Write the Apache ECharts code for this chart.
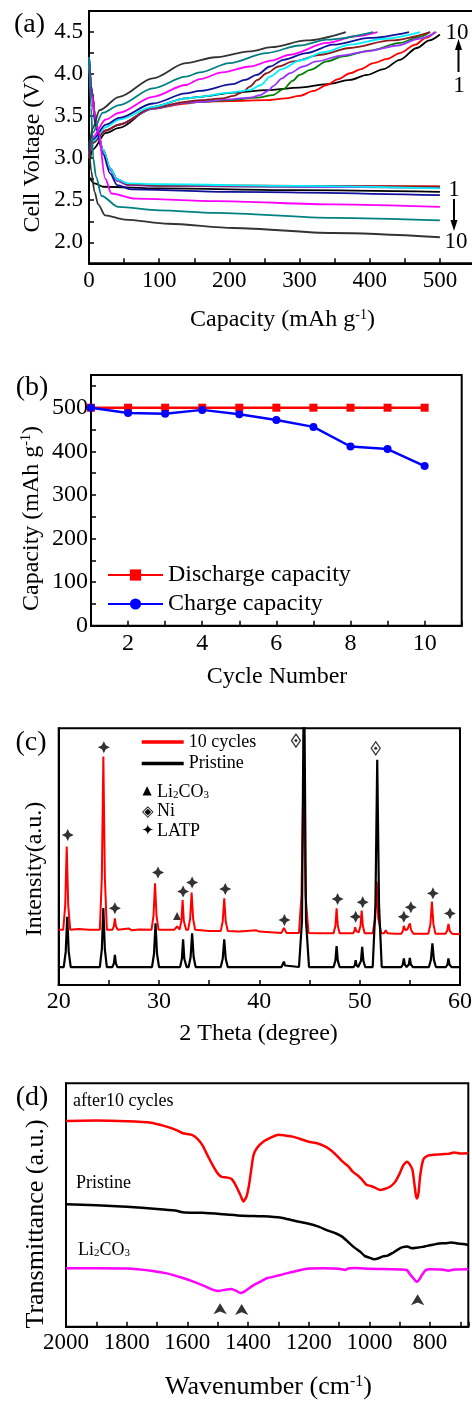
<!DOCTYPE html>
<html><head><meta charset="utf-8">
<script src="https://cdn.jsdelivr.net/npm/echarts@6/dist/echarts.min.js"></script>
<style>html,body{margin:0;padding:0;background:#fff}#c{width:472px;height:1401px}</style>
</head><body><div id="c"></div>
<script>
// ---------------- Panel (a): voltage profiles [capacity mAh/g, voltage V] ----------------
const cycleLabels = ['1','2','3','4','5','6','7','8','9','10'];
const charge1 = [[0,2.9],[5,3.1],[24,3.30],[43,3.36],[91,3.61],[138,3.71],[158,3.73],[206,3.78],[253,3.81],[300,3.84],[339,3.88],[372,3.93],[396,3.99],[420,4.06],[443,4.17],[467,4.31],[485,4.40],[500,4.47]];
const charge2 = [[0,3.0],[5,3.18],[24,3.33],[43,3.40],[91,3.59],[138,3.65],[158,3.67],[200,3.68],[253,3.69],[280,3.71],[300,3.74],[320,3.80],[339,3.87],[355,3.94],[372,4.01],[388,4.06],[405,4.13],[425,4.18],[443,4.25],[465,4.35],[480,4.43],[493,4.5]];
const charge3 = [[0,3.0],[5,3.18],[24,3.33],[43,3.40],[91,3.59],[138,3.66],[158,3.67],[200,3.69],[240,3.72],[262,3.75],[277,3.82],[290,3.92],[300,3.99],[315,4.05],[339,4.15],[362,4.21],[400,4.28],[443,4.37],[470,4.44],[486,4.5]];
const charge4 = [[0,3.0],[5,3.18],[24,3.33],[43,3.40],[91,3.59],[138,3.66],[158,3.67],[200,3.70],[230,3.72],[244,3.75],[255,3.80],[263,3.86],[275,3.95],[286,4.01],[305,4.09],[324,4.15],[360,4.22],[396,4.27],[440,4.34],[470,4.42],[495,4.5]];
const charge5 = [[0,3.0],[5,3.18],[24,3.33],[43,3.40],[91,3.60],[138,3.67],[158,3.69],[190,3.71],[206,3.74],[220,3.79],[229,3.85],[240,3.93],[253,4.01],[270,4.09],[291,4.15],[330,4.23],[372,4.31],[430,4.40],[486,4.5]];
const charge6 = [[0,3.05],[5,3.2],[24,3.37],[43,3.46],[91,3.61],[138,3.71],[158,3.73],[200,3.78],[229,3.81],[245,3.87],[258,3.97],[275,4.06],[300,4.16],[335,4.26],[372,4.35],[420,4.42],[472,4.5]];
const charge7 = [[0,3.05],[5,3.22],[24,3.40],[43,3.48],[91,3.65],[138,3.77],[158,3.80],[205,3.88],[222,3.93],[239,3.99],[258,4.09],[277,4.17],[310,4.25],[348,4.35],[400,4.43],[456,4.5]];
const charge8 = [[0,3.05],[5,3.25],[24,3.46],[43,3.54],[91,3.73],[138,3.87],[158,3.94],[190,4.02],[229,4.09],[260,4.16],[286,4.23],[339,4.37],[380,4.45],[411,4.5]];
const charge9 = [[0,3.1],[5,3.3],[19.5,3.54],[43,3.63],[91,3.83],[138,3.97],[158,4.02],[200,4.13],[253,4.25],[300,4.34],[339,4.41],[405,4.5]];
const charge10 = [[0,3.1],[5,3.35],[15,3.57],[43,3.73],[91,3.95],[138,4.13],[180,4.2],[229,4.27],[260,4.32],[310,4.40],[366,4.5]];
const discharge1 = [[0,2.78],[8,2.70],[20,2.66],[100,2.64],[300,2.62],[500,2.60]];
const discharge2 = [[0,4.2],[4,3.8],[10,3.4],[20,3.1],[30,2.88],[40,2.75],[55,2.69],[100,2.675],[300,2.67],[500,2.665]];
const discharge3 = [[0,4.2],[4,3.8],[10,3.4],[20,3.1],[30,2.87],[40,2.74],[55,2.69],[100,2.67],[300,2.66],[500,2.65]];
const discharge4 = [[0,4.2],[4,3.8],[10,3.4],[20,3.08],[30,2.86],[40,2.73],[55,2.68],[100,2.67],[300,2.66],[500,2.65]];
const discharge5 = [[0,4.2],[4,3.8],[10,3.42],[20,3.1],[30,2.88],[40,2.75],[55,2.69],[100,2.675],[300,2.67],[500,2.66]];
const discharge6 = [[0,4.2],[4,3.75],[10,3.38],[20,3.1],[30,2.88],[40,2.75],[55,2.70],[100,2.69],[300,2.67],[500,2.64]];
const discharge7 = [[0,4.2],[4,3.75],[10,3.35],[20,3.05],[30,2.82],[40,2.68],[60,2.63],[200,2.60],[500,2.56]];
const discharge8 = [[0,4.1],[4,3.75],[8,3.5],[13,3.34],[23,2.76],[32,2.58],[66,2.52],[180,2.49],[350,2.45],[500,2.42]];
const discharge9 = [[0,4.2],[3,3.6],[6,3.0],[10,2.78],[18,2.55],[42,2.42],[100,2.38],[180,2.35],[350,2.29],[500,2.26]];
const discharge10 = [[0,3.2],[3,2.85],[8,2.6],[13,2.45],[23,2.32],[51,2.27],[113,2.22],[206,2.17],[348,2.11],[500,2.06]];
const capacityTicks = [0,100,200,300,400,500];
const voltageTicks = [2.0,2.5,3.0,3.5,4.0,4.5];

// ---------------- Panel (b): capacity vs cycle ----------------
const cycleNumbers = [1,2,3,4,5,6,7,8,9,10];
const dischargeCapacity = [500,500,500,500,500,500,500,500,500,500];
const chargeCapacity = [500,488,486,495,485,472,456,411,405,366];

// ---------------- Panel (c): XRD [2theta, intensity a.u.] ----------------
const xrdCycled = [[20,21.5],[20.45,21.5],[20.65,31],[20.8,53.9],[20.95,31],[21.15,21.5],[22,21.8],[23,21.5],
 [24.1,21.5],[24.3,42],[24.45,89],[24.6,42],[24.8,21.5],[25.35,21.5],[25.5,22.9],[25.6,26],[25.7,22.9],[25.9,21.5],
 [27,22],[27.3,21.3],[28,21.6],[29.25,21.5],[29.45,27],[29.6,39.6],[29.75,27],[29.95,21.5],
 [31.5,21.5],[31.8,22.8],[32.05,21.6],[32.23,25],[32.35,33.1],[32.47,25],[32.7,21.5],
 [32.9,21.5],[33.1,25.8],[33.25,36],[33.4,25.8],[33.6,21.5],[35,21],
 [36.15,21],[36.35,24.8],[36.5,33.8],[36.65,24.8],[36.85,21],[38,20.8],[39.7,21.3],[40,20.8],
 [42.2,20.3],[42.45,22.2],[42.7,20.3],[43.95,20.3],[44.2,35],[44.4,83.1],[44.6,35],[44.9,20.3],[46,20.2],
 [47.4,20.2],[47.58,23.1],[47.7,29.9],[47.82,23.1],[48,20.2],[49.35,20.2],[49.47,21],[49.55,22.5],[49.65,21],
 [49.9,20.5],[50.08,23],[50.2,29],[50.32,23],[50.5,20.2],[51.3,20.2],[51.55,26],[51.7,40.3],[51.85,26],[52.15,20.2],
 [52.45,20.2],[52.6,21.3],[52.75,20.2],[53.5,20],[54.15,20],[54.3,21],[54.4,23],[54.55,21.4],[54.75,21.6],[54.9,22.2],
 [55.0,24],[55.12,21.5],[55.35,20],[56.85,20],[57.05,23.7],[57.2,32.5],[57.35,23.7],[57.55,20],
 [58.55,20],[58.72,21.1],[58.85,23.8],[58.98,21.1],[59.2,20],[60,19.8]];
const xrdPristine = [[20,7],[20.5,7],[20.7,12.9],[20.85,26.6],[21.0,12.9],[21.2,7],[24.1,7],[24.3,13.9],[24.45,30],[24.6,13.9],[24.8,7],
 [25.35,7],[25.5,8.4],[25.6,11.7],[25.7,8.4],[25.85,7],[29.3,7],[29.5,12.1],[29.65,24],[29.8,12.1],[30.0,7],
 [32.1,7],[32.28,10.2],[32.4,17.8],[32.52,10.2],[32.75,7],[32.95,7],[33.15,10.9],[33.3,20.1],[33.45,10.9],[33.65,7],
 [36.15,7],[36.35,10.2],[36.5,17.8],[36.65,10.2],[36.85,7],[42.2,7],[42.35,7.6],[42.45,9.1],[42.55,7.6],[42.7,7],
 [43.95,7],[44.25,25],[44.45,130],[44.65,25],[44.95,7],[47.4,7],[47.58,9.5],[47.7,15.2],[47.82,9.5],[48.0,7],
 [49.4,7],[49.52,7.8],[49.6,9.7],[49.68,7.8],[49.85,7],[49.95,7],[50.13,9.4],[50.25,14.9],[50.37,9.4],[50.55,7],
 [51.3,7],[51.57,31],[51.75,87.7],[51.93,31],[52.2,7],[54.15,7],[54.3,8],[54.4,10.4],[54.5,8],[54.68,7],
 [54.78,7],[54.9,8],[55.0,10.6],[55.1,8],[55.3,7],[56.9,7],[57.1,9.8],[57.25,16.2],[57.4,9.8],[57.6,7],
 [58.6,7],[58.75,8],[58.85,10.4],[58.95,8],[59.15,7],[60,7]];
const latpMarks = [[20.9,58.4],[24.5,92.6],[25.6,29.9],[29.9,43.8],[32.4,36.4],[33.3,39.9],[36.6,37.4],[42.5,25.3],[47.8,33.5],[49.6,26.6],[50.3,32.2],[54.4,26.6],[55.1,30.3],[57.3,35.7],[59.0,27.9]];
const li2co3Marks = [[31.8,26.9]];
const niMarks = [[43.65,95.2],[51.6,92.2]];

// ---------------- Panel (d): FTIR [wavenumber cm-1, transmittance a.u.] ----------------
const ftirCycled = [[2000,84.5],[1900,84.7],[1800,84.4],[1720,83.8],[1680,82.6],[1640,81],[1615,79.5],[1585,78.8],[1565,77],[1550,74.5],[1530,69.5],[1514,65.8],[1500,63],[1487,61.6],[1470,61.3],[1455,60.8],[1440,58],[1425,54],[1415,51.4],[1405,53.5],[1397,58],[1390,64],[1382,70.5],[1370,73.5],[1350,76],[1320,78],[1300,78.9],[1280,78.6],[1250,78],[1220,76.8],[1200,76],[1170,75.3],[1150,74.3],[1130,72.8],[1110,70.6],[1090,68],[1070,66],[1055,63.7],[1040,62.3],[1025,60.5],[1010,58.3],[995,57.8],[980,57],[965,56.2],[950,56.6],[932,57.5],[915,59.5],[900,63],[888,66.4],[876,67.8],[866,66.5],[858,64.4],[852,59],[847,54.1],[843,52.7],[838,55],[833,61.6],[826,67],[820,69.2],[805,70.4],[790,70.6],[760,70.9],[740,71],[720,71.6],[700,71.2],[674,71.3]];
const ftirPristine = [[2000,50.3],[1900,49.9],[1800,49.3],[1700,48.4],[1640,47.7],[1610,46.9],[1550,46.8],[1480,46.2],[1420,45.6],[1350,45.4],[1290,44.8],[1250,43.6],[1207,42.5],[1170,41.2],[1141,39.7],[1110,38.3],[1090,37],[1070,34.8],[1050,32.6],[1030,30.8],[1015,29],[1000,28.4],[985,27.7],[970,28.1],[955,28.9],[940,29.2],[925,30.2],[905,31.8],[890,32.7],[875,33],[860,32.2],[845,32.4],[825,32.8],[810,33.2],[790,33.7],[770,34.2],[750,34.3],[730,34.6],[710,34.2],[690,34],[674,33.6]];
const ftirLi2CO3 = [[2000,24],[1900,24],[1800,23.9],[1720,23],[1668,21.9],[1620,20.2],[1580,18.5],[1545,16.8],[1514,15.1],[1495,14.7],[1475,15.2],[1455,15.5],[1440,14.8],[1425,13.8],[1415,14.2],[1400,15.5],[1385,16.8],[1360,18.5],[1338,19.9],[1300,21],[1273,21.9],[1230,23.2],[1200,23.9],[1150,24],[1100,23.8],[1080,23.3],[1070,23.9],[1050,24.1],[1000,23.8],[950,23.7],[900,23.5],[877,23.3],[866,21.5],[855,19.9],[848,18.8],[842,18.5],[835,19.5],[827,21.2],[815,23.2],[800,23.6],[760,23.5],[740,23],[720,23.5],[674,23.6]];
const ftirArrows = [[1492,9.6],[1421,9.3],[841,13.3]];

// ---------------- styling / building ----------------
const FONT = '"Liberation Serif", "Times New Roman", serif';
const SYMF = '"DejaVu Sans", sans-serif';
const cycleColors = ['#000000','#ff0000','#008000','#9933ff','#8b1a1a','#00f0ff','#10109a','#ff00ff','#008080','#333333'];
const chargeCurves = [charge1,charge2,charge3,charge4,charge5,charge6,charge7,charge8,charge9,charge10];
const dischargeCurves = [discharge1,discharge2,discharge3,discharge4,discharge5,discharge6,discharge7,discharge8,discharge9,discharge10];

function axisBase(extra){
  return Object.assign({
    type:'value',
    axisLine:{show:true,onZero:false,lineStyle:{color:'#000',width:2}},
    axisTick:{show:true,inside:true,length:5,lineStyle:{color:'#000',width:1.5}},
    splitLine:{show:false},
    axisLabel:{color:'#000',fontFamily:FONT,fontSize:23,margin:6}
  }, extra);
}
function near(a,b){return Math.abs(a-b)<1e-6;}

const series = [];
cycleLabels.forEach((lab,i)=>{
  [dischargeCurves[i], chargeCurves[i]].forEach((d,k)=>{
    series.push({type:'line', name:(k?'charge ':'discharge ')+lab, xAxisIndex:0, yAxisIndex:0, data:d,
      symbol:'none', smooth:0.3, smoothMonotone:'x', silent:true,
      lineStyle:{color:cycleColors[i], width:1.8}, itemStyle:{color:cycleColors[i]}});
  });
});
series.push({type:'line', name:'Discharge capacity', xAxisIndex:1, yAxisIndex:1,
  data:cycleNumbers.map((c,i)=>[c,dischargeCapacity[i]]), symbol:'rect', symbolSize:8,
  lineStyle:{color:'#ff0000',width:2.5}, itemStyle:{color:'#ff0000'}});
series.push({type:'line', name:'Charge capacity', xAxisIndex:1, yAxisIndex:1,
  data:cycleNumbers.map((c,i)=>[c,chargeCapacity[i]]), symbol:'circle', symbolSize:8,
  lineStyle:{color:'#0000ff',width:2.5}, itemStyle:{color:'#0000ff'}});
series.push({type:'line', name:'10 cycles', xAxisIndex:2, yAxisIndex:2, data:xrdCycled, symbol:'none',
  lineStyle:{color:'#ff0000',width:2}, itemStyle:{color:'#ff0000'}});
series.push({type:'line', name:'Pristine', xAxisIndex:2, yAxisIndex:2, data:xrdPristine, symbol:'none',
  lineStyle:{color:'#000000',width:2.2}, itemStyle:{color:'#000000'}});
series.push({type:'scatter', name:'LATP', xAxisIndex:2, yAxisIndex:2, data:latpMarks, silent:true,
  symbol:'path://M0,-10 L3.3,-3.3 L10,0 L3.3,3.3 L0,10 L-3.3,3.3 L-10,0 L-3.3,-3.3 Z', symbolSize:12,
  itemStyle:{color:'#000'}});
series.push({type:'scatter', name:'Li2CO3 mark', xAxisIndex:2, yAxisIndex:2, data:li2co3Marks, silent:true,
  symbol:'triangle', symbolSize:[8,8], itemStyle:{color:'#000'}});
series.push({type:'scatter', name:'Ni', xAxisIndex:2, yAxisIndex:2, data:niMarks, silent:true,
  symbol:'path://M0,-10 L7,0 L0,10 L-7,0 Z', symbolSize:[9,13], itemStyle:{color:'#fff',borderColor:'#000',borderWidth:1.3}});
series.push({type:'scatter', name:'Ni dot', xAxisIndex:2, yAxisIndex:2, data:niMarks, silent:true,
  symbol:'circle', symbolSize:3, itemStyle:{color:'#000'}});
const neg = arr => arr.map(p=>[-p[0],p[1]]);
series.push({type:'line', name:'after10 cycles', xAxisIndex:3, yAxisIndex:3, data:neg(ftirCycled), symbol:'none', smooth:0.2,
  lineStyle:{color:'#ff0000',width:2.5}});
series.push({type:'line', name:'Pristine FTIR', xAxisIndex:3, yAxisIndex:3, data:neg(ftirPristine), symbol:'none', smooth:0.2,
  lineStyle:{color:'#000000',width:2.5}});
series.push({type:'line', name:'Li2CO3 FTIR', xAxisIndex:3, yAxisIndex:3, data:neg(ftirLi2CO3), symbol:'none', smooth:0.2,
  lineStyle:{color:'#ff00ff',width:2.5}});
series.push({type:'scatter', name:'FTIR arrows', xAxisIndex:3, yAxisIndex:3, data:neg(ftirArrows), silent:true,
  symbol:'arrow', symbolSize:[10,11], itemStyle:{color:'#000'}});

function T(x,y,text,size,opt){
  opt = opt||{};
  const st = Object.assign({text:text, fontFamily:opt.family||FONT, fontSize:size, fill:'#000',
     align:opt.align||'center', verticalAlign:'middle', textAlign:opt.align||'center', textVerticalAlign:'middle'}, opt.style||{});
  if (opt.rich) st.rich = opt.rich;
  return {type:'text', x:x, y:y, rotation:opt.rot||0, silent:true, style:st};
}
function supRich(size){
  return {n:{fontSize:size,fontFamily:FONT,fill:'#000'}, s:{fontSize:Math.round(size*0.6),fontFamily:FONT,fill:'#000',verticalAlign:'top'}};
}
function subRich(size){
  return {n:{fontSize:size,fontFamily:FONT,fill:'#000'}, b:{fontSize:Math.round(size*0.62),fontFamily:FONT,fill:'#000',verticalAlign:'bottom'}};
}
const R90 = Math.PI/2;
const graphics = [
  T(29.5,25,'(a)',28), T(32,388,'(b)',28), T(31,743,'(c)',28), T(32,1098,'(d)',28),
  // panel (a) titles and annotations
  T(282.5,320,'{n|Capacity (mAh g}{s|-1}{n|)}',24,{rich:supRich(24)}),
  T(33,153.5,'Cell Voltage (V)',24,{rot:R90}),
  T(457,33,'10',23), T(459,86,'1',23), T(454,190,'1',23), T(456,242,'10',23),
  {type:'line', silent:true, shape:{x1:458.5,y1:72,x2:458.5,y2:47}, style:{stroke:'#000',lineWidth:2}},
  {type:'polygon', silent:true, shape:{points:[[458.5,39],[455,50],[462,50]]}, style:{fill:'#000'}},
  {type:'line', silent:true, shape:{x1:454,y1:199,x2:454,y2:223}, style:{stroke:'#000',lineWidth:2}},
  {type:'polygon', silent:true, shape:{points:[[454,231],[450.5,220],[457.5,220]]}, style:{fill:'#000'}},
  // panel (b)
  T(277,677,'Cycle Number',24),
  T(31.7,518.5,'{n|Capacity (mAh g}{s|-1}{n|)}',24,{rot:R90,rich:supRich(24)}),
  // panel (c)
  T(258.5,1034,'2 Theta (degree)',24),
  T(35,869,'Intensity(a.u.)',24,{rot:R90}),
  T(147,791,'\u25B2',12,{family:SYMF}),
  T(157,792,'{n|Li}{b|2}{n|CO}{b|3}',18,{align:'left',rich:subRich(18)}),
  T(147.7,811.7,'\u25C8',15,{family:SYMF}),
  T(157,811.7,'Ni',18,{align:'left'}),
  T(147.7,831,'\u2726',15,{family:SYMF}),
  T(157,831,'LATP',18,{align:'left'}),
  // panel (d)
  T(268.5,1387,'{n|Wavenumber (cm}{s|-1}{n|)}',26,{rich:supRich(26)}),
  T(36,1224,'Transmittance (a.u.)',26,{rot:R90}),
  T(73,1101,'after10 cycles',18,{align:'left'}),
  T(76,1183,'Pristine',18,{align:'left'}),
  T(78,1250,'{n|Li}{b|2}{n|CO}{b|3}',18,{align:'left',rich:subRich(18)})
];

const gridBase = {show:true, borderColor:'#000', borderWidth:2, backgroundColor:'transparent', containLabel:false, outerBoundsMode:'none'};
const option = {
  backgroundColor:'#ffffff',
  animation:false,
  grid:[
    Object.assign({left:89, top:11, width:393, height:252.3}, gridBase),
    Object.assign({left:91, top:375, width:370.7, height:250.7}, gridBase),
    Object.assign({left:58.7, top:728.3, width:401.3, height:256.7}, gridBase),
    Object.assign({left:66, top:1083.3, width:402.3, height:243.4}, gridBase)
  ],
  xAxis:[
    axisBase({gridIndex:0, min:0, max:560, interval:50,
      axisLabel:{color:'#000',fontFamily:FONT,fontSize:23,margin:6, showMaxLabel:false,
        formatter:v=>(capacityTicks.indexOf(v)>=0)?String(v):''}}),
    axisBase({gridIndex:1, min:1, max:11, interval:1,
      axisLabel:{color:'#000',fontFamily:FONT,fontSize:24,margin:6,
        formatter:v=>(v%2===0 && v<=10)?String(v):''}}),
    axisBase({gridIndex:2, min:20, max:60, interval:5,
      axisLabel:{color:'#000',fontFamily:FONT,fontSize:24,margin:5,
        formatter:v=>(v%10===0)?String(v):''}}),
    axisBase({gridIndex:3, min:-2000, max:-674, interval:100,
      axisLabel:{color:'#000',fontFamily:FONT,fontSize:23,margin:5,
        formatter:v=>(Math.round(v)%200===0)?String(-Math.round(v)):''}})
  ],
  yAxis:[
    axisBase({gridIndex:0, min:1.75, max:4.75, interval:0.25,
      axisLabel:{color:'#000',fontFamily:FONT,fontSize:23,margin:6,
        formatter:v=>{const t=Math.round(v*100)/100; return voltageTicks.some(q=>near(q,t))?t.toFixed(1):'';}}}),
    axisBase({gridIndex:1, min:0, max:575, interval:50,
      axisLabel:{color:'#000',fontFamily:FONT,fontSize:24,margin:3,
        formatter:v=>(v%100===0 && v<=500)?String(v):''}}),
    axisBase({gridIndex:2, min:0, max:100, axisTick:{show:false}, axisLabel:{show:false}}),
    axisBase({gridIndex:3, min:0, max:100, axisTick:{show:false}, axisLabel:{show:false}})
  ],
  legend:[
    {data:['Discharge capacity','Charge capacity'], orient:'vertical', left:107, top:563, padding:0,
     itemWidth:55, itemHeight:14, itemGap:5, selectedMode:false,
     textStyle:{fontSize:24, fontFamily:FONT, color:'#000'}},
    {data:[{name:'10 cycles',icon:'rect',itemStyle:{color:'#ff0000'}},{name:'Pristine',icon:'rect',itemStyle:{color:'#000000'}}],
     orient:'vertical', left:141.7, top:733, padding:0,
     itemWidth:42, itemHeight:3.5, itemGap:3.6, selectedMode:false,
     textStyle:{fontSize:18, fontFamily:FONT, color:'#000'}}
  ],
  graphic:graphics,
  series:series
};
const chart = echarts.init(document.getElementById('c'), null, {renderer:'canvas', width:472, height:1401});
chart.setOption(option);
</script>
</body></html>
